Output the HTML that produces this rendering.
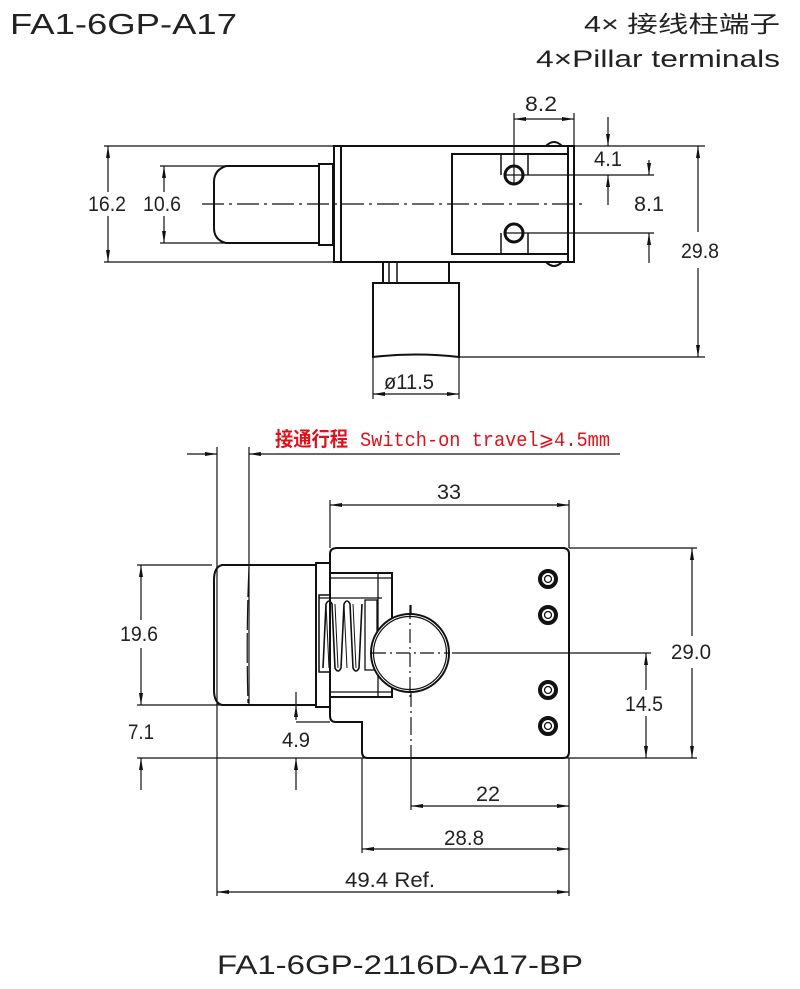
<!DOCTYPE html>
<html><head><meta charset="utf-8"><style>
html,body{margin:0;padding:0;background:#fff;}
svg{display:block;}
.d{font-family:"Liberation Sans",sans-serif;font-size:21px;fill:#222;}
</style></head><body>
<svg width="800" height="989" viewBox="0 0 800 989" xmlns="http://www.w3.org/2000/svg">
<defs>
<marker id="a" viewBox="0 0 12 4" refX="12" refY="2" markerWidth="12" markerHeight="4" orient="auto-start-reverse" markerUnits="userSpaceOnUse"><path d="M0,0 L12,2 L0,4 z" fill="#111"/></marker>
</defs>
<g font-family="Liberation Sans, sans-serif" fill="#222">
<text x="10" y="34" font-size="29" textLength="227" lengthAdjust="spacingAndGlyphs">FA1-6GP-A17</text>
<text x="584" y="32" font-size="23" font-family="Liberation Sans, Noto Sans CJK SC, sans-serif" textLength="196" lengthAdjust="spacingAndGlyphs">4× 接线柱端子</text>
<text x="536" y="67" font-size="24" textLength="244" lengthAdjust="spacingAndGlyphs">4×Pillar terminals</text>
<text x="217" y="974" font-size="27" textLength="366" lengthAdjust="spacingAndGlyphs">FA1-6GP-2116D-A17-BP</text>
</g>

<!-- ===== TOP VIEW ===== -->
<g stroke="#111" fill="none" stroke-width="2">
<path d="M319,166 L226,166 Q214,170 214,182 L214,228 Q214,240 226,243 L319,243 Z"/>
<rect x="319" y="164" width="14" height="81"/>
<rect x="334" y="146" width="240" height="116"/>
<line x1="341" y1="146" x2="341" y2="262"/>
<rect x="452" y="154" width="116" height="100"/>
<line x1="568" y1="146" x2="568" y2="262"/>
<path d="M546,146 Q554,138 562,146" />
<path d="M546,262 Q554,270 562,262" />
<path d="M501,154 L501,175 M528,154 L528,175 M501,233 L501,254 M528,233 L528,254" stroke-width="1.5"/>
<circle cx="514" cy="175" r="9" stroke-width="3"/>
<circle cx="514" cy="233" r="9" stroke-width="3"/>
<rect x="383" y="262" width="66" height="21"/>
<line x1="389" y1="262" x2="389" y2="283" stroke-width="1.5"/>
<line x1="397" y1="262" x2="397" y2="283" stroke-width="1.5"/>
<path d="M373,283 L459,283 L459,357 Q416,352 373,357 Z"/>
</g>
<g stroke="#111" fill="none" stroke-width="1.2">
<line x1="202" y1="204" x2="587" y2="204" stroke-dasharray="22,5,3,5"/>
<line x1="104" y1="146" x2="334" y2="146"/>
<line x1="104" y1="262" x2="334" y2="262"/>
<line x1="108" y1="146" x2="108" y2="192" marker-start="url(#a)"/>
<line x1="108" y1="216" x2="108" y2="262" marker-end="url(#a)"/>
<line x1="160" y1="166" x2="226" y2="166"/>
<line x1="160" y1="243" x2="226" y2="243"/>
<line x1="164" y1="166" x2="164" y2="192" marker-start="url(#a)"/>
<line x1="164" y1="216" x2="164" y2="243" marker-end="url(#a)"/>
<line x1="514" y1="113" x2="514" y2="185"/>
<line x1="574" y1="113" x2="574" y2="146"/>
<line x1="514" y1="119" x2="574" y2="119" marker-start="url(#a)" marker-end="url(#a)"/>
<line x1="574" y1="146" x2="705" y2="146"/>
<line x1="504" y1="175" x2="654" y2="175"/>
<line x1="504" y1="233" x2="654" y2="233"/>
<line x1="608" y1="117" x2="608" y2="146" marker-end="url(#a)"/>
<line x1="608" y1="205" x2="608" y2="175" marker-end="url(#a)"/>
<line x1="649" y1="160" x2="649" y2="175" marker-end="url(#a)"/>
<line x1="649" y1="263" x2="649" y2="233" marker-end="url(#a)"/>
<line x1="698" y1="146" x2="698" y2="232" marker-start="url(#a)"/>
<line x1="698" y1="268" x2="698" y2="357" marker-end="url(#a)"/>
<line x1="459" y1="357" x2="705" y2="357"/>
<line x1="373" y1="357" x2="373" y2="399"/>
<line x1="459" y1="357" x2="459" y2="399"/>
<line x1="373" y1="394" x2="459" y2="394" marker-start="url(#a)" marker-end="url(#a)"/>
</g>
<g class="d">
<text x="88" y="211" textLength="38" lengthAdjust="spacingAndGlyphs">16.2</text>
<text x="143" y="211" textLength="38" lengthAdjust="spacingAndGlyphs">10.6</text>
<text x="525" y="111" textLength="32" lengthAdjust="spacingAndGlyphs">8.2</text>
<text x="594" y="166" textLength="28" lengthAdjust="spacingAndGlyphs">4.1</text>
<text x="634" y="211" textLength="30" lengthAdjust="spacingAndGlyphs">8.1</text>
<text x="681" y="258" textLength="38" lengthAdjust="spacingAndGlyphs">29.8</text>
<text x="384" y="389" textLength="50" lengthAdjust="spacingAndGlyphs">ø11.5</text>
</g>

<!-- ===== BOTTOM VIEW ===== -->
<text x="275" y="446" font-size="20" fill="#e0101a" font-family="Liberation Sans, Noto Sans CJK SC, sans-serif" textLength="73" lengthAdjust="spacingAndGlyphs" font-weight="bold">接通行程</text>
<text x="360" y="446" font-size="20" fill="#e0101a" font-family="Liberation Mono, monospace" textLength="250" lengthAdjust="spacingAndGlyphs">Switch-on travel⩾4.5mm</text>
<g stroke="#111" fill="none" stroke-width="1.2">
<line x1="187" y1="454" x2="217" y2="454" marker-end="url(#a)"/>
<line x1="620" y1="454" x2="249" y2="454" marker-end="url(#a)"/>
<line x1="217" y1="447" x2="217" y2="896"/>
<line x1="249" y1="447" x2="249" y2="705"/>
<line x1="330" y1="500" x2="330" y2="548"/>
<line x1="569" y1="500" x2="569" y2="548"/>
<line x1="330" y1="505" x2="569" y2="505" marker-start="url(#a)" marker-end="url(#a)"/>
<line x1="569" y1="548" x2="697" y2="548"/>
<line x1="137" y1="565" x2="212" y2="565"/>
<line x1="137" y1="705" x2="316" y2="705"/>
<line x1="141" y1="565" x2="141" y2="620" marker-start="url(#a)"/>
<line x1="141" y1="648" x2="141" y2="705" marker-end="url(#a)"/>
<line x1="137" y1="758" x2="697" y2="758"/>
<line x1="141" y1="790" x2="141" y2="758" marker-end="url(#a)"/>
<line x1="296" y1="692" x2="296" y2="705"/>
<line x1="296" y1="705" x2="296" y2="720" marker-start="url(#a)"/>
<line x1="296" y1="722" x2="330" y2="722"/>
<line x1="296" y1="790" x2="296" y2="758" marker-end="url(#a)"/>
<line x1="692" y1="548" x2="692" y2="636" marker-start="url(#a)"/>
<line x1="692" y1="668" x2="692" y2="758" marker-end="url(#a)"/>
<line x1="452" y1="653" x2="651" y2="653"/>
<line x1="646" y1="653" x2="646" y2="690" marker-start="url(#a)"/>
<line x1="646" y1="716" x2="646" y2="758" marker-end="url(#a)"/>
<line x1="411" y1="758" x2="411" y2="810"/>
<line x1="362" y1="758" x2="362" y2="853"/>
<line x1="569" y1="758" x2="569" y2="896"/>
<line x1="411" y1="806" x2="569" y2="806" marker-start="url(#a)" marker-end="url(#a)"/>
<line x1="362" y1="849" x2="569" y2="849" marker-start="url(#a)" marker-end="url(#a)"/>
<line x1="217" y1="892" x2="569" y2="892" marker-start="url(#a)" marker-end="url(#a)"/>
<line x1="411" y1="605" x2="411" y2="758" stroke-dasharray="18,4,2,4"/>
</g>
<g stroke="#111" fill="none" stroke-width="2">
<path d="M316,565 L222,565 Q214,567 214,580 L214,690 Q214,703 222,705 L316,705"/>
<path d="M249,567 Q246,635 248,703" stroke-width="1.2" stroke-dasharray="30,3"/>
<rect x="316" y="563" width="14" height="144"/>
<path d="M337,548 L563,548 Q569,548 569,554 L569,752 Q569,758 563,758 L368,758 Q362,758 362,752 L362,722 L336,722 Q330,722 330,716 L330,554 Q330,548 337,548 Z"/>
<rect x="330" y="573" width="62" height="124"/>
<line x1="330" y1="578" x2="392" y2="578" stroke-width="1.3"/>
<line x1="330" y1="692" x2="392" y2="692" stroke-width="1.3"/>
<line x1="378" y1="573" x2="378" y2="697" stroke-width="1.3"/>
<path d="M330,595 L319,595 L319,672 L330,672" stroke-width="1.5"/>
<line x1="319" y1="598" x2="382" y2="598" stroke-width="1.3"/>
<rect x="365" y="600" width="12" height="70" stroke-width="1.3"/>
<path d="M323,668 L326,604 Q329,598 332,604 L335,668 Q338,674 341,668 L344,604 Q347,598 350,604 L353,668 Q356,674 359,668 L362,604" stroke-width="1.6"/>
<path d="M326,604 L329,668 M335,604 L338,668 M344,604 L347,668 M353,604 L356,668" stroke-width="1"/>
<circle cx="410" cy="653" r="39" fill="#fff"/>
<circle cx="410" cy="653" r="36.5" stroke-width="1.2"/>
</g>
<g stroke="#111" fill="none" stroke-width="1.2">
<line x1="410" y1="605" x2="410" y2="701" stroke-dasharray="14,4,2,4"/>
<line x1="372" y1="653" x2="448" y2="653" stroke-dasharray="14,4,2,4"/>
</g>
<g fill="none" stroke="#111">
<circle cx="548" cy="579" r="8" stroke-width="4"/><circle cx="548" cy="579" r="3.5" stroke-width="1.3"/>
<circle cx="548" cy="615" r="8" stroke-width="4"/><circle cx="548" cy="615" r="3.5" stroke-width="1.3"/>
<circle cx="548" cy="690" r="8" stroke-width="4"/><circle cx="548" cy="690" r="3.5" stroke-width="1.3"/>
<circle cx="548" cy="726" r="8" stroke-width="4"/><circle cx="548" cy="726" r="3.5" stroke-width="1.3"/>
</g>
<g class="d">
<text x="437" y="499" textLength="24" lengthAdjust="spacingAndGlyphs">33</text>
<text x="120" y="641" textLength="38" lengthAdjust="spacingAndGlyphs">19.6</text>
<text x="128" y="739" textLength="26" lengthAdjust="spacingAndGlyphs">7.1</text>
<text x="282" y="747" textLength="28" lengthAdjust="spacingAndGlyphs">4.9</text>
<text x="671" y="659" textLength="40" lengthAdjust="spacingAndGlyphs">29.0</text>
<text x="625" y="711" textLength="38" lengthAdjust="spacingAndGlyphs">14.5</text>
<text x="476" y="801" textLength="24" lengthAdjust="spacingAndGlyphs">22</text>
<text x="444" y="845" textLength="40" lengthAdjust="spacingAndGlyphs">28.8</text>
<text x="345" y="887" textLength="90" lengthAdjust="spacingAndGlyphs">49.4  Ref.</text>
</g>
</svg>
</body></html>
